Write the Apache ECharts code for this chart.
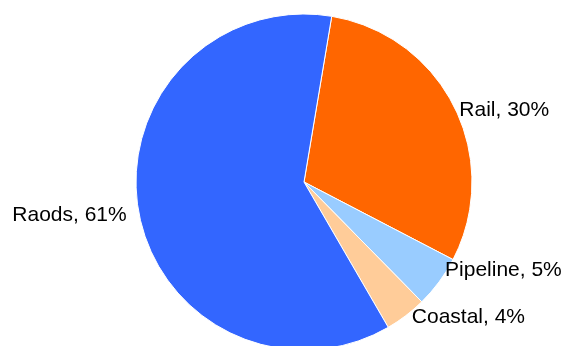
<!DOCTYPE html>
<html><head><meta charset="utf-8">
<script src="https://cdn.jsdelivr.net/npm/echarts@6/dist/echarts.min.js"></script>
<style>html,body{margin:0;padding:0;background:#fff}#c{width:563px;height:346px}</style>
</head><body><div id="c"></div>
<script>
const categories = ['Rail', 'Pipeline', 'Coastal', 'Raods'];
const values = [30, 5, 4, 61];
const colors = ['#FF6600', '#99CCFF', '#FFCC99', '#3366FF'];
const labelShift = [[5, 3], [6, -12], [6, 2], [-12, 3]];
const chart = echarts.init(document.getElementById('c'));
chart.setOption({
  animation: false,
  series: [{
    type: 'pie',
    center: [304, 182],
    radius: 168,
    startAngle: 80.5,
    clockwise: true,
    avoidLabelOverlap: false,
    data: categories.map((c, i) => ({ name: c, value: values[i], itemStyle: { color: colors[i] } })),
    itemStyle: { borderColor: '#fff', borderWidth: 1 },
    label: {
      show: true, position: 'outside',
      formatter: p => p.name + ', ' + Math.round(p.percent) + '%',
      fontFamily: 'Liberation Sans, Arial, sans-serif', fontSize: 21, color: '#000',
      distanceToLabelLine: 0
    },
    labelLine: { show: false, length: 0, length2: 0 },
    labelLayout: p => ({ dx: labelShift[p.dataIndex][0], dy: labelShift[p.dataIndex][1] }),
    emphasis: { disabled: true }
  }]
});
</script></body></html>
